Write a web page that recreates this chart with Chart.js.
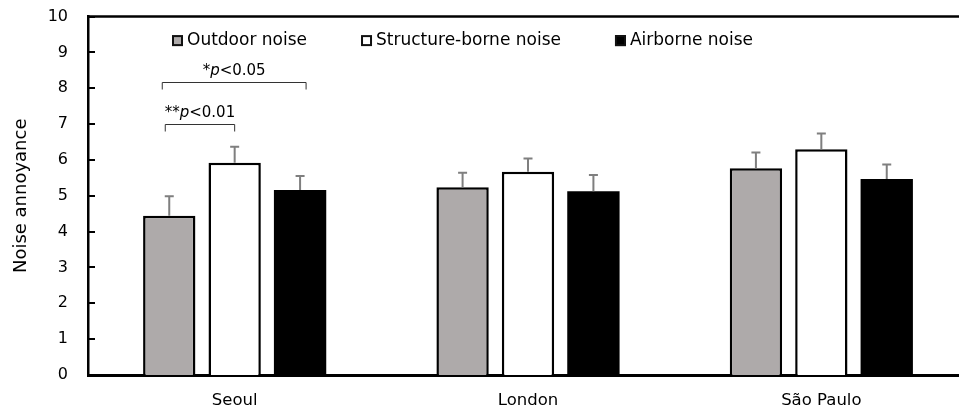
<!DOCTYPE html>
<html><head><meta charset="utf-8">
<script src="https://cdn.jsdelivr.net/npm/chart.js@4.4.0/dist/chart.umd.min.js"></script>
<style>html,body{margin:0;padding:0;overflow:hidden;background:#fff;width:959px;height:411px}#wrap{width:980px;height:424px;position:absolute;left:0;top:-13px}</style>
</head><body><div id="wrap"><canvas id="c"></canvas></div>
<script>
const categories = ['Seoul', 'London', 'São Paulo'];
const seriesNames = ['Outdoor noise', 'Structure-borne noise', 'Airborne noise'];
const outdoor = [4.44, 5.24, 5.77];
const structureBorne = [5.92, 5.67, 6.30];
const airborne = [5.16, 5.13, 5.47];
const outdoorErr = [0.55, 0.40, 0.44];
const structureErr = [0.45, 0.37, 0.44];
const airborneErr = [0.39, 0.45, 0.40];
const yTicks = [0, 1, 2, 3, 4, 5, 6, 7, 8, 9, 10];
const yTitle = 'Noise annoyance';
const sigLabels = ['**p<0.01', '*p<0.05'];
const sigPairs = [[0, 1], [0, 2]];
const sigLevels = [7.0, 8.17];

const FONT = '"DejaVu Sans", sans-serif';
const errs = [outdoorErr, structureErr, airborneErr];
const sigOffsets = [[-4, 0], [-7, 6]];

const deco = {
  id: 'deco',
  afterDatasetsDraw(chart) {
    const ctx = chart.ctx, y = chart.scales.y;
    ctx.save();
    ctx.strokeStyle = '#7f7f7f';
    ctx.lineWidth = 2;
    chart.data.datasets.forEach((ds, i) => {
      chart.getDatasetMeta(i).data.forEach((bar, j) => {
        const top = y.getPixelForValue(ds.data[j] + errs[i][j]);
        ctx.beginPath();
        ctx.moveTo(bar.x, bar.y);
        ctx.lineTo(bar.x, top);
        ctx.moveTo(bar.x - 4.5, top);
        ctx.lineTo(bar.x + 4.5, top);
        ctx.stroke();
      });
    });
    ctx.restore();
  },
  afterDraw(chart) {
    const ctx = chart.ctx, y = chart.scales.y, a = chart.chartArea;
    ctx.save();
    ctx.strokeStyle = '#000';
    ctx.lineWidth = 2.5;
    ctx.beginPath();
    ctx.moveTo(a.left - 1, a.top);
    ctx.lineTo(chart.width, a.top);
    ctx.stroke();
    ctx.lineWidth = 2;
    yTicks.forEach(v => {
      if (v === 0) return;
      const py = Math.round(y.getPixelForValue(v));
      ctx.beginPath();
      ctx.moveTo(a.left, py);
      ctx.lineTo(a.left + 7, py);
      ctx.stroke();
    });
    ctx.font = '17px ' + FONT;
    ctx.textBaseline = 'middle';
    ctx.textAlign = 'left';
    let x = 172;
    const ly = a.top + 24;
    chart.data.datasets.forEach((ds, i) => {
      ctx.fillStyle = ds.backgroundColor;
      ctx.fillRect(x, ly - 5.5, 11, 11);
      ctx.strokeStyle = '#111';
      ctx.lineWidth = 2;
      ctx.strokeRect(x + 1, ly - 4.5, 9, 9);
      ctx.fillStyle = '#000';
      ctx.fillText(ds.label, x + 15, ly);
      x += 15 + ctx.measureText(ds.label).width + 54;
    });
    const metaX = (d) => chart.getDatasetMeta(d).data[0].x;
    sigPairs.forEach((pair, k) => {
      const xa = metaX(pair[0]) + sigOffsets[k][0];
      const xb = metaX(pair[1]) + sigOffsets[k][1];
      const ly2 = Math.round(y.getPixelForValue(sigLevels[k])) + 0.5;
      ctx.strokeStyle = '#333';
      ctx.lineWidth = 1;
      ctx.beginPath();
      ctx.moveTo(xa, ly2 + 7);
      ctx.lineTo(xa, ly2);
      ctx.lineTo(xb, ly2);
      ctx.lineTo(xb, ly2 + 7);
      ctx.stroke();
      const m = sigLabels[k].match(/^(\**)(p)(.*)$/);
      const fs = '15px ' + FONT;
      const parts = [[m[1], fs], [m[2], 'italic ' + fs], [m[3], fs]];
      let w = 0;
      parts.forEach(p => { ctx.font = p[1]; w += ctx.measureText(p[0]).width; });
      let tx = (xa + xb) / 2 - w / 2;
      ctx.fillStyle = '#000';
      ctx.textBaseline = 'alphabetic';
      parts.forEach(p => { ctx.font = p[1]; ctx.fillText(p[0], tx, ly2 - 8); tx += ctx.measureText(p[0]).width; });
    });
    ctx.restore();
  }
};

new Chart(document.getElementById('c'), {
  type: 'bar',
  data: {
    labels: categories,
    datasets: [
      { label: seriesNames[0], data: outdoor, backgroundColor: '#AEAAAA', borderColor: '#000', borderWidth: 2.5 },
      { label: seriesNames[1], data: structureBorne, backgroundColor: '#FFFFFF', borderColor: '#000', borderWidth: 2.5 },
      { label: seriesNames[2], data: airborne, backgroundColor: '#000000', borderColor: '#000', borderWidth: 0 }
    ]
  },
  options: {
    responsive: true,
    maintainAspectRatio: false,
    animation: false,
    events: [],
    layout: { padding: { left: 0, right: 12, top: 3, bottom: 0 } },
    categoryPercentage: 0.669,
    barPercentage: 0.8,
    plugins: { legend: { display: false }, tooltip: { enabled: false } },
    scales: {
      x: {
        z: 1,
        grid: { display: false, drawTicks: false },
        border: { display: true, color: '#000', width: 3 },
        ticks: { color: '#000', font: { family: FONT, size: 16.5 }, padding: 16 },
        afterFit: (s) => { s.height = 36; }
      },
      y: {
        z: 1,
        min: 0, max: 10,
        afterBuildTicks: (s) => { s.ticks = yTicks.map(v => ({ value: v })); },
        grid: { display: false, drawTicks: false },
        border: { display: true, color: '#000', width: 2.5 },
        ticks: { color: '#000', font: { family: FONT, size: 16 }, padding: 20 },
        title: { display: true, text: yTitle, color: '#000', font: { family: FONT, size: 18 }, padding: { top: 11, bottom: 4 } },
        afterFit: (s) => { s.width = 88; }
      }
    }
  },
  plugins: [deco]
});
</script>
</body></html>
